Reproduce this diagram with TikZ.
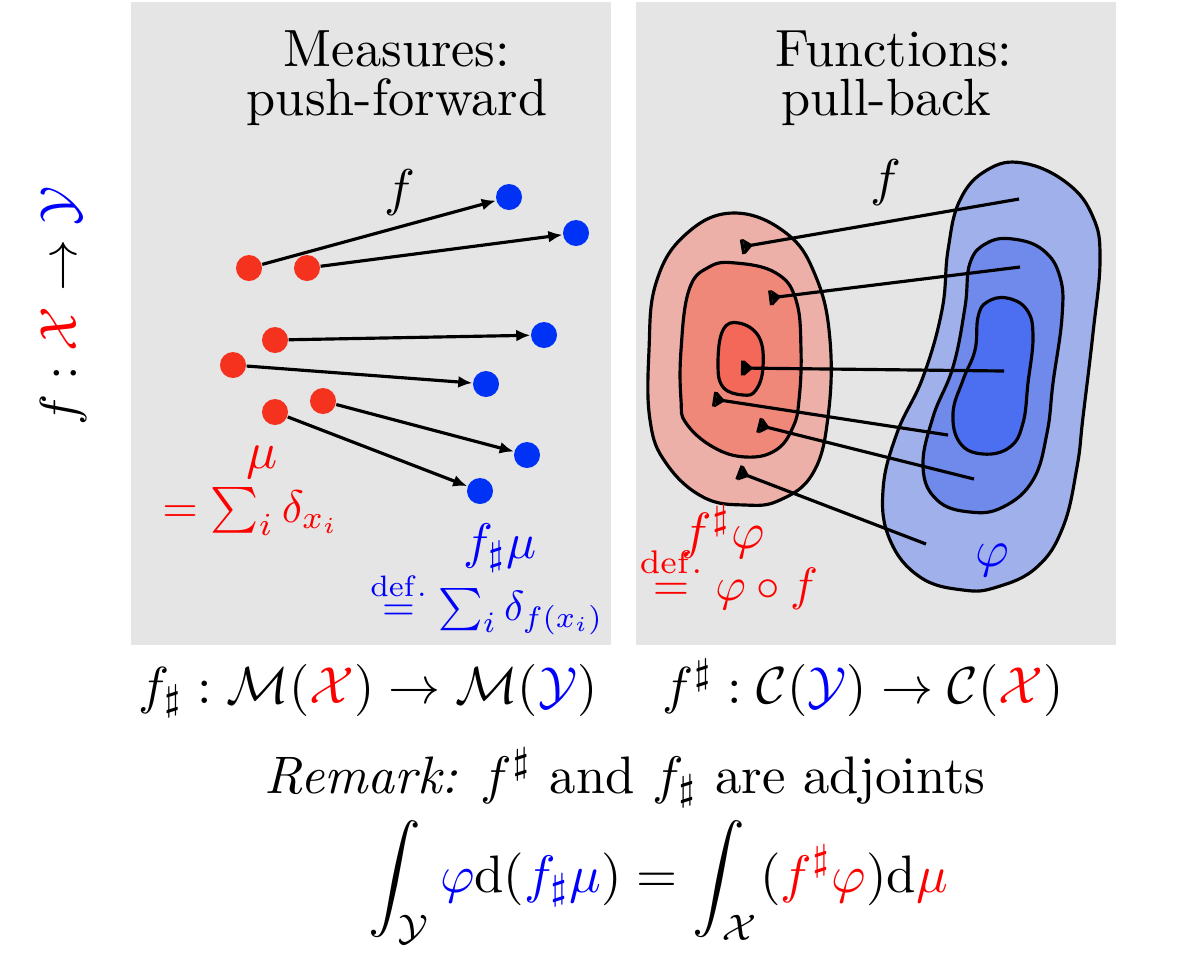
\documentclass[tikz,border=0pt]{standalone}
\usepackage{amsmath,amssymb}
\usepackage{graphicx}
\usetikzlibrary{arrows.meta}
\definecolor{panelgray}{RGB}{229,229,229}
\definecolor{dotred}{RGB}{245,50,30}
\definecolor{dotblue}{RGB}{0,50,245}
\definecolor{redA}{RGB}{236,176,168}
\definecolor{redB}{RGB}{240,136,122}
\definecolor{redC}{RGB}{243,104,88}
\definecolor{blueA}{RGB}{160,176,235}
\definecolor{blueB}{RGB}{112,138,235}
\definecolor{blueC}{RGB}{76,110,240}
\newcommand{\cX}{{\color{red}\mathcal{X}}}
\newcommand{\cY}{{\color{blue}\mathcal{Y}}}
\newcommand{\defeq}{\stackrel{\mathrm{def.}}{=}}
\newcommand{\scl}[2]{\scalebox{#1}{#2}}
\begin{document}
\begin{tikzpicture}[x=0.01cm,y=-0.01cm,
    every node/.style={font=\fontsize{10}{12}\selectfont,inner sep=1pt},
    reddot/.style={circle,fill=dotred,inner sep=0pt,minimum size=0.26cm},
    bluedot/.style={circle,fill=dotblue,inner sep=0pt,minimum size=0.26cm},
    pfarrow/.style={-{Latex[length=4pt,width=3.4pt]},line width=0.9pt},
    pbarrow/.style={-{Triangle[reversed,length=2.6pt,width=4.2pt,sep=0pt]Bar[width=4.2pt]},line width=0.9pt},
    contour/.style={line width=0.9pt}]
  \useasboundingbox (0,0) rectangle (1200,959);
  \fill[panelgray] (131,2) rectangle (611,645);
  \fill[panelgray] (636,2) rectangle (1116,645);

  \node[anchor=base] (tmeas1) at (397,66) {\scl{1.49}{Measures:}};
  \node[anchor=base] (tmeas2) at (397,115) {\scl{1.49}{push-forward}};
  \node[anchor=base] (tfunc1) at (894,66) {\scl{1.49}{Functions:}};
  \node[anchor=base] (tfunc2) at (886,115) {\scl{1.49}{pull-back}};
  \node[rotate=90] (fmap) at (63,306) {\scl{1.48}{$f:\cX\to\cY$}};

  \node[reddot] (x1) at (249,268) {};
  \node[reddot] (x2) at (307,268) {};
  \node[reddot] (x3) at (275,340) {};
  \node[reddot] (x4) at (233,365) {};
  \node[reddot] (x5) at (323,401) {};
  \node[reddot] (x6) at (275,412) {};
  \node[bluedot] (y1) at (509,197) {};
  \node[bluedot] (y2) at (576,233) {};
  \node[bluedot] (y3) at (544,335) {};
  \node[bluedot] (y4) at (486,384) {};
  \node[bluedot] (y5) at (527,455) {};
  \node[bluedot] (y6) at (480,491) {};
  \foreach \i in {1,...,6}
    \draw[pfarrow] (x\i) -- (y\i);
  \node (fleft) at (400,193) {\scl{1.47}{$f$}};
  \node[text=red,anchor=base] (mu) at (262,468) {\scl{1.47}{$\mu$}};
  \node[text=red,anchor=base] (musum) at (251,522) {\scl{1.3}{$=\sum_i\delta_{x_i}$}};
  \node[text=blue,anchor=base] (fmu) at (500,558) {\scl{1.42}{$f_\sharp\mu$}};
  \node[text=blue,anchor=base] (fmusum) at (487,620) {\scl{1.2}{$\defeq\sum_i\delta_{f(x_i)}$}};

  \draw[contour,fill=redA] plot[smooth cycle,tension=0.7] coordinates {(733,213) (786,233) (816,277) (830,340) (828,417) (813,473) (780,500) (745,505) (703,497) (666,463) (650,420) (649,350) (656,283) (685,235)};
  \draw[contour,fill=redB] plot[smooth cycle,tension=0.7] coordinates {(736,263) (776,273) (796,300) (801,350) (799,400) (793,427) (776,450) (746,457) (713,447) (686,423) (681,400) (681,350) (689,290) (709,267)};
  \draw[contour,fill=redC] plot[smooth cycle,tension=0.7] coordinates {(739,323) (759,337) (763,367) (756,390) (743,395) (723,387) (718,363) (723,330)};
  \draw[contour,fill=blueA] plot[smooth cycle,tension=0.7] coordinates {(1023,163) (1067,183) (1093,217) (1100,260) (1093,333) (1083,417) (1077,467) (1063,527) (1037,567) (997,587) (963,590) (920,577) (890,540) (883,490) (897,433) (923,377) (942,310) (948,250) (960,200) (987,170)};
  \draw[contour,fill=blueB] plot[smooth cycle,tension=0.7] coordinates {(1013,239) (1043,250) (1060,277) (1062,317) (1053,383) (1047,433) (1033,480) (1003,507) (970,512) (937,500) (923,467) (933,417) (953,367) (965,307) (970,263) (987,243)};
  \draw[contour,fill=blueC] plot[smooth cycle,tension=0.7] coordinates {(1007,298) (1027,310) (1033,337) (1028,383) (1023,423) (1010,447) (983,454) (960,443) (953,413) (963,380) (975,350) (978,317) (987,302)};

  \coordinate (b1) at (1019,199); \coordinate (a1) at (741,247);
  \coordinate (b2) at (1020,267); \coordinate (a2) at (769,298);
  \coordinate (b3) at (1004,371); \coordinate (a3) at (741,368);
  \coordinate (b4) at (948,435);  \coordinate (a4) at (713,399);
  \coordinate (b5) at (974,479);  \coordinate (a5) at (758,425);
  \coordinate (b6) at (926,544);  \coordinate (a6) at (738,472);
  \foreach \i in {1,...,6}
    \draw[pbarrow] (b\i) -- (a\i);
  \node (fright) at (886,183) {\scl{1.47}{$f$}};
  \node[text=blue] (phi) at (992,560) {\scl{1.47}{$\varphi$}};
  \node[text=red,anchor=base] (fphi) at (723,548) {\scl{1.45}{$f^\sharp\varphi$}};
  \node[text=red,anchor=base] (fphidef) at (729,600) {\scl{1.33}{$\defeq\varphi\circ f$}};

  \node[anchor=base] (pushmap) at (368,703) {\scl{1.48}{$f_\sharp:\mathcal{M}(\cX)\to\mathcal{M}(\cY)$}};
  \node[anchor=base] (pullmap) at (863,703) {\scl{1.48}{$f^\sharp:\mathcal{C}(\cY)\to\mathcal{C}(\cX)$}};
  \node[anchor=base] (remark) at (625,793) {\scl{1.5}{\textit{Remark:} $f^\sharp$ and $f_\sharp$ are adjoints}};
  \node[anchor=base] (adjeq) at (658,892) {\scl{1.5}{$\displaystyle\int_{\mathcal{Y}}{\color{blue}\varphi}\mathrm{d}({\color{blue}f_\sharp\mu})=\int_{\mathcal{X}}({\color{red}f^\sharp\varphi})\mathrm{d}{\color{red}\mu}$}};
\end{tikzpicture}
\end{document}
